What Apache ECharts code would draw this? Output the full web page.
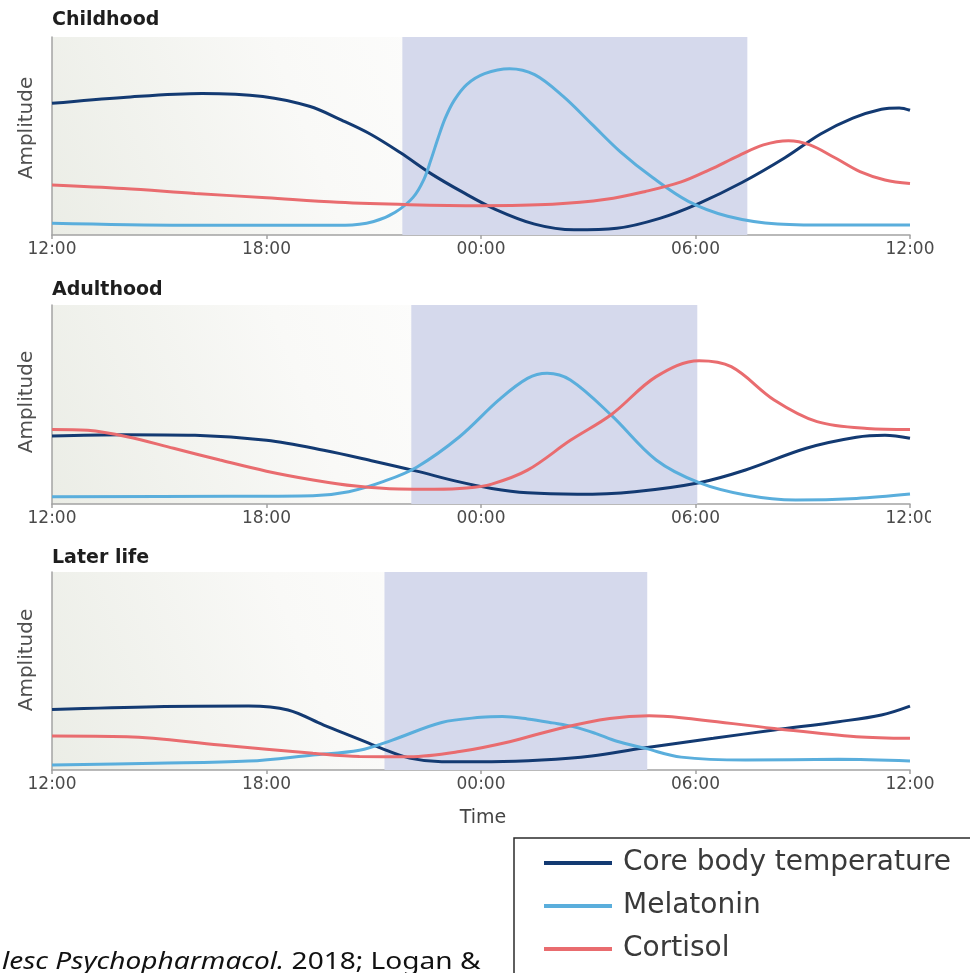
<!DOCTYPE html>
<html>
<head>
<meta charset="utf-8">
<script src="https://cdn.jsdelivr.net/npm/echarts@6/dist/echarts.min.js"></script>
<style>
html,body{margin:0;padding:0;background:#fff;}
#chart{width:970px;height:973px;}
</style>
</head>
<body>
<div id="chart"></div>
<script>
// ---- data ----
const tickLabels = ['12:00', '18:00', '00:00', '06:00', '12:00'];
const seriesNames = ['Core body temperature', 'Melatonin', 'Cortisol'];
const panelTitles = ['Childhood', 'Adulthood', 'Later life'];
// hours after 12:00 (0..24), amplitude 0..100
const nightShade = [[9.8, 19.45], [10.05, 18.05], [9.3, 16.65]];

const childCore = [[0,66.5],[2,69.5],[4.2,71.5],[5.9,70],[7.2,65],[8.1,58],[8.9,51],[9.75,41.5],[10.6,31],[11.5,21.5],[12.4,13],[13.5,5.5],[14.6,2.6],[15.8,3.4],[17,8.4],[18.1,16],[19.3,26.5],[20.5,39],[21.5,51],[22.4,59],[23.2,63.5],[23.7,64.2],[24,63]];
const childMelatonin = [[0,5.9],[3.7,4.9],[8.2,4.9],[9,6.8],[9.6,11.5],[10.1,19],[10.4,28],[10.6,38],[10.8,49],[11,59],[11.25,68],[11.6,76],[12.1,81.5],[12.8,84],[13.5,81],[14.3,70],[15.1,56],[15.9,42],[16.8,29],[17.8,17],[18.9,9.5],[20.3,5.6],[22,5],[24,5.1]];
const childCortisol = [[0,25.3],[2,23.5],[4,21],[6,18.8],[8,16.5],[10,15.3],[12,14.8],[14,15.5],[15.5,18],[16.6,22],[17.6,26.8],[18.4,33],[19.2,40],[19.9,45.5],[20.6,47.6],[21.2,45.5],[21.9,39],[22.6,32],[23.3,27.8],[24,26]];

const adultCore = [[0,34.2],[2,34.8],[4,34.5],[6,32],[7.6,27],[9,21.5],[10.2,16.5],[11.3,11.5],[12.3,7.8],[13.3,5.6],[14.7,4.9],[16.3,6.2],[18.1,10.7],[19.4,17.1],[21.1,28],[22.5,33.5],[23.3,34.5],[24,33]];
const adultMelatonin = [[0,3.7],[5,3.9],[7.3,4.2],[8.3,6.2],[9.3,11.5],[10.2,18.5],[11.4,33.8],[12.5,52.3],[13.3,63.1],[13.85,65.7],[14.5,62.3],[15.65,44.5],[16.9,22.1],[18.1,10.7],[19.4,4.5],[20.8,2],[22.5,2.8],[24,5]];
const adultCortisol = [[0,37.5],[1,37],[2.1,33.8],[3.4,28],[4.7,22.1],[6,16.5],[7.3,12.1],[8.5,9],[9.7,7.5],[10.7,7.4],[11.6,8],[12.3,10],[13.3,17],[14.5,32],[15.65,45],[16.9,64],[18.1,72],[19,69],[20.2,52.3],[21.4,41.4],[22.8,38],[24,37.5]];

const laterCore = [[0,30.6],[2.9,32],[5.5,32.3],[6.6,30.3],[7.6,22.7],[8.6,15.5],[9.2,11],[10,6],[10.9,4.2],[12.3,4.2],[13.7,5],[15.1,7.1],[16.5,11],[18.5,16],[20.2,20.2],[22,24.4],[23.2,27.8],[24,32.3]];
const laterMelatonin = [[0,2.5],[2.9,3.4],[5.5,4.5],[7.3,7.6],[8.6,10],[9.5,15],[10.9,24],[12,26.6],[12.6,27],[13.3,25.8],[14,23.8],[14.6,21.8],[15.2,18.5],[15.8,14.5],[16.6,10.9],[17.6,6.5],[19.4,5],[22,5.4],[24,4.5]];
const laterCortisol = [[0,17.2],[2.1,16.8],[4.7,12.6],[7.3,8.4],[8.6,6.8],[10,6.7],[11.4,9.3],[12.8,14.3],[14.2,21],[15.6,26],[16.7,27.4],[17.6,26.4],[20.2,21],[22.5,16.8],[24,16]];

const panelData = [
  [childCore, childMelatonin, childCortisol],
  [adultCore, adultMelatonin, adultCortisol],
  [laterCore, laterMelatonin, laterCortisol]
];

// ---- layout / style ----
const colors = ['#133a72', '#5aaedc', '#e96c6f'];
const gridTops = [37, 305, 572];
const gridHeights = [198, 199, 198];
const gridLeft = 52, gridWidth = 858;
const axisColor = '#a3a3a3';
const font = 'DejaVu Sans';

const chart = echarts.init(document.getElementById('chart'), null, {renderer: 'canvas'});

const grids = [], xAxes = [], yAxes = [], series = [], titles = [], graphics = [];
const ampCenters = [128, 402, 660];
const titleCenters = [22, 292, 560];

for (let p = 0; p < 3; p++) {
  grids.push({
    left: gridLeft, top: gridTops[p], width: gridWidth, height: gridHeights[p],
    show: true, borderWidth: 0,
    backgroundColor: new echarts.graphic.LinearGradient(0, 1, 0.6, 0, [
      {offset: 0, color: '#ebede6'}, {offset: 0.5, color: '#f9f9f7'}, {offset: 1, color: '#ffffff'}
    ])
  });
  xAxes.push({
    type: 'value', gridIndex: p, min: 0, max: 24, interval: 6,
    axisLine: {show: true, lineStyle: {color: axisColor, width: 1.5}},
    axisTick: {show: true, length: 4, lineStyle: {color: axisColor, width: 1.5}},
    splitLine: {show: false},
    axisLabel: {
      margin: 6, color: '#4a4a4a', fontFamily: font, fontSize: 17,
      formatter: v => tickLabels[Math.round(v / 6)]
    }
  });
  yAxes.push({
    type: 'value', gridIndex: p, min: 0, max: 100,
    axisLine: {show: true, lineStyle: {color: axisColor, width: 1.5}},
    axisTick: {show: false}, axisLabel: {show: false}, splitLine: {show: false}
  });
  series.push({
    type: 'line', xAxisIndex: p, yAxisIndex: p, data: [], silent: true, z: 1,
    markArea: {
      silent: true,
      itemStyle: {color: '#d5d9ec'},
      data: [[{xAxis: nightShade[p][0]}, {xAxis: nightShade[p][1]}]]
    }
  });
  for (let s = 0; s < 3; s++) {
    series.push({
      type: 'line', name: seriesNames[s], xAxisIndex: p, yAxisIndex: p,
      data: panelData[p][s], smooth: 0.35,
      symbol: 'none', showSymbol: false, z: 3,
      lineStyle: {color: colors[s], width: 3},
      itemStyle: {color: colors[s]}
    });
  }
  titles.push({
    text: panelTitles[p], left: 52, top: titleCenters[p] - 11, padding: 0,
    textStyle: {fontFamily: font, fontSize: 19, fontWeight: 'bold', color: '#1e1e1e'}
  });
  graphics.push({
    type: 'text', x: 27, y: ampCenters[p], rotation: Math.PI / 2,
    style: {text: 'Amplitude', fontFamily: font, fontSize: 20, fill: '#4f4f4f', align: 'center', verticalAlign: 'middle'}
  });
}

graphics.push({
  type: 'text', x: 483, y: 818,
  style: {text: 'Time', fontFamily: font, fontSize: 19, fill: '#444', align: 'center', verticalAlign: 'middle'}
});
// clipped right label of middle panel
graphics.push({type: 'rect', shape: {x: 931, y: 507, width: 40, height: 26}, style: {fill: '#ffffff'}, z: 100});
// legend frame (cut by the page edges)
graphics.push({type: 'rect', shape: {x: 514, y: 838, width: 480, height: 160}, style: {fill: '#ffffff', stroke: '#2b2b2b', lineWidth: 1.5}, z: -1});
// citation fragment
graphics.push({
  type: 'text', x: 2, y: 962, scaleX: 1.22, scaleY: 1,
  style: {
    text: '{i|lesc Psychopharmacol.}{r| 2018; Logan &}',
    verticalAlign: 'middle',
    rich: {
      i: {fontFamily: 'Noto Sans', fontStyle: 'italic', fontSize: 23, fill: '#111'},
      r: {fontFamily: 'Noto Sans', fontSize: 23, fill: '#111'}
    }
  }
});

chart.setOption({
  animation: false,
  backgroundColor: '#ffffff',
  title: titles,
  grid: grids,
  xAxis: xAxes,
  yAxis: yAxes,
  series: series,
  legend: {
    data: seriesNames, orient: 'vertical', left: 544, top: 848,
    padding: 0, itemGap: 13, itemWidth: 68, itemHeight: 4,
    icon: 'rect', selectedMode: false,
    textStyle: {fontFamily: font, fontSize: 28, color: '#3a3a3a', lineHeight: 30, padding: [0, 0, 0, 6]}
  },
  graphic: graphics
});
</script>
</body>
</html>
